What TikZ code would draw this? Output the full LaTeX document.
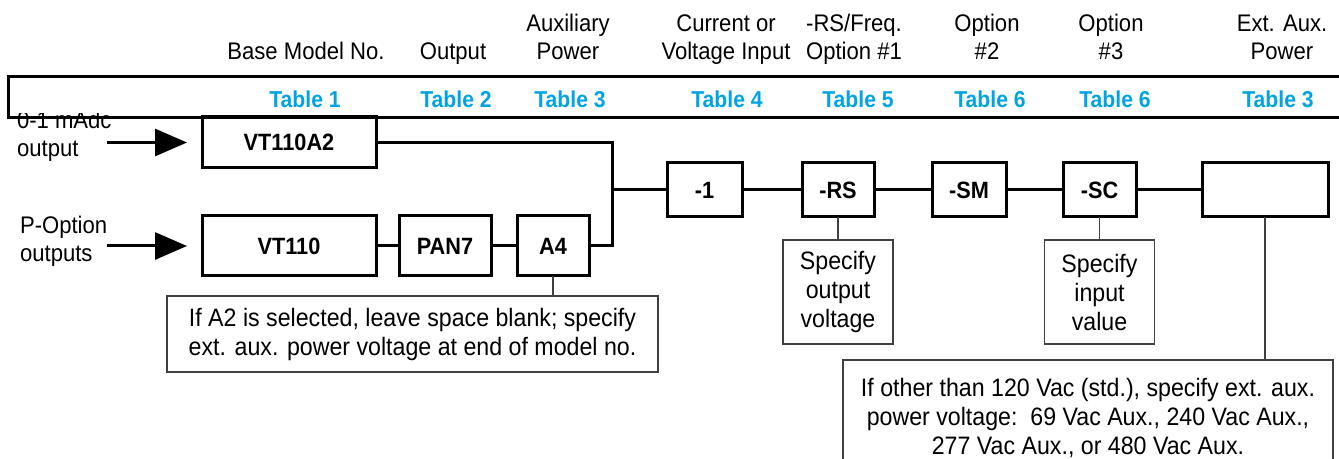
\documentclass[tikz,border=0pt]{standalone}
\usepackage{fontspec}
\setmainfont{Liberation Sans}[FakeStretch=0.92]
\usetikzlibrary{arrows.meta, positioning}
\definecolor{tblue}{RGB}{0,163,228}

\begin{document}
\begin{tikzpicture}[x=0.5pt, y=-0.5pt,
  every node/.style={font=\fontsize{12}{14}\selectfont, align=center},
  head/.style ={anchor=base},
  tab/.style  ={anchor=base, text=tblue, font=\bfseries\fontsize{11.5}{14}\selectfont},
  unit/.style ={rectangle, draw, line width=1.5pt, outer sep=0pt, minimum height=30pt,
                font=\bfseries\fontsize{11.8}{14}\selectfont},
  row/.style  ={unit, minimum height=27pt},
  note/.style ={rectangle, draw=black!75, line width=0.6pt, outer sep=0pt, fill=white,
                font=\fontsize{12.6}{14.5}\selectfont},
  link/.style ={line width=1.5pt},
  tie/.style  ={line width=0.6pt, black!75},
  feed/.style ={line width=1.5pt, -{Triangle[length=16pt, width=13.5pt]}, shorten >=7.5pt},
]
\useasboundingbox (0,0) rectangle (1339,459);

% Input labels
\node[anchor=base west, align=left] (madc) at (10,157) {0-1 mAdc\\output};
\node[anchor=base west, align=left] (popt) at (13,262) {P-Option\\outputs};

% Header band
\fill[white] (8,77) rectangle (1339,113);
\draw[link] (1339,77) -- (8,77) -- (8,118) -- (1339,118);

% Column titles
\node[head] (hbase) at (306,60)  {Base Model No.};
\node[head] (hout)  at (453,60)  {Output};
\node[head] (haux)  at (568,60)  {Auxiliary\\Power};
\node[head] (hcur)  at (726,60)  {Current or\\Voltage Input};
\node[head] (hrsf)  at (854,60)  {-RS/Freq.\\Option \#1};
\node[head] (hop2)  at (987,60)  {Option\\\#2};
\node[head] (hop3)  at (1111,60) {Option\\\#3};
\node[head] (hext)  at (1282,60) {Ext. Aux.\\Power};

% Table references
\node[tab] (t1) at (305,108)  {Table 1};
\node[tab] (t2) at (456,108)  {Table 2};
\node[tab] (t3) at (570,108)  {Table 3};
\node[tab] (t4) at (727,108)  {Table 4};
\node[tab] (t5) at (858,108)  {Table 5};
\node[tab] (t6) at (990,108)  {Table 6};
\node[tab] (t7) at (1115,108) {Table 6};
\node[tab] (t8) at (1278,108) {Table 3};

% Model boxes
\node[unit, minimum width=87pt, minimum height=25.5pt] (a2) at (289,142.5) {VT110A2};
\node[unit, minimum width=87pt]                  (vt)  at (289,246) {VT110};
\node[unit, minimum width=46pt, right=11.5pt of vt]  (pan) {PAN7};
\node[unit, minimum width=36pt, right=13pt of pan]   (a4)  {A4};

\node[row, minimum width=37.5pt]                 (one) at (704.5,190) {-1};
\node[row, minimum width=36pt, right=30pt of one]    (rs)  {-RS};
\node[row, minimum width=37pt, right=29pt of rs]     (sm)  {-SM};
\node[row, minimum width=36.5pt, right=28.5pt of sm] (sc)  {-SC};
\node[row, minimum width=63pt, right=33pt of sc]     (ext) {};

% Connectors
\coordinate (inA) at (107,142.5);
\coordinate (inB) at (107,246);
\coordinate (jn)  at (612,190);

\draw[feed] (inA) -- (a2.west);
\draw[feed] (inB) -- (vt.west);
\draw[link] (vt) -- (pan) -- (a4);
\draw[link] (a4.east) -| (jn) |- (a2.east);
\draw[link] (jn) -- (one) -- (rs) -- (sm) -- (sc) -- (ext);

% Notes
\node[note, minimum width=245.5pt, minimum height=38pt] (a2note) at (412.5,334)
  {If A2 is selected, leave space blank; specify\\ext. aux. power voltage at end of model no.};
\node[note, minimum width=55pt, minimum height=52pt, below=11.5pt of rs] (rsnote)
  {Specify\\output\\voltage};
\node[note, minimum width=55pt, minimum height=52pt, below=11.5pt of sc] (scnote)
  {Specify\\input\\value};
\node[note, minimum width=245pt, minimum height=57.5pt] (extnote) at (1088,417.5)
  {If other than 120 Vac (std.), specify ext. aux.\\power voltage:\ \ 69 Vac Aux., 240 Vac Aux.,\\277 Vac Aux., or 480 Vac Aux.};

\draw[tie] (a4.south) -- (a4.south |- a2note.north);
\draw[tie] (rs) -- (rsnote);
\draw[tie] (sc) -- (scnote);
\draw[tie] (ext.south) -- (ext.south |- extnote.north);

\end{tikzpicture}
\end{document}
